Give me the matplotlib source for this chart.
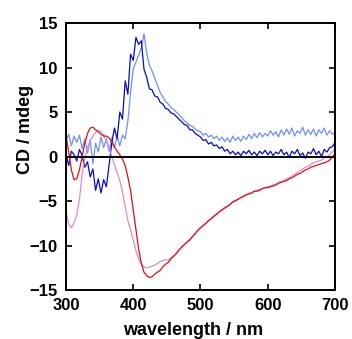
import numpy as np
import matplotlib
matplotlib.use("Agg")
from matplotlib import pyplot as plt

wavelength = np.arange(300, 701, 4)

red = [
    2.4, 0.5, -1.5, -2.6, -2.5, -1.5, 0.0, 1.5, 2.6, 3.2,
    3.3, 3.0, 2.8, 2.5, 2.3, 2.3, 2.1, 1.6, 1.1, 0.6,
    0.2, -0.3, -1.0, -2.3, -3.8, -6.0, -8.2, -10.4, -12.0, -13.0,
    -13.4, -13.6, -13.5, -13.2, -13.0, -12.8, -12.4, -12.1, -11.9, -11.5,
    -11.2, -10.9, -10.5, -10.2, -9.9, -9.6, -9.4, -9.0, -8.7, -8.3,
    -8.0, -7.8, -7.5, -7.2, -7.0, -6.7, -6.5, -6.2, -6.0, -5.8,
    -5.6, -5.4, -5.1, -5.0, -4.8, -4.6, -4.5, -4.3, -4.2, -4.1,
    -3.9, -3.9, -3.8, -3.6, -3.5, -3.5, -3.4, -3.3, -3.2, -3.0,
    -2.9, -2.8, -2.7, -2.5, -2.4, -2.2, -2.0, -1.9, -1.7, -1.5,
    -1.4, -1.2, -1.1, -1.0, -0.9, -0.8, -0.7, -0.6, -0.4, -0.1,
    0.4,
]

pink = [
    -6.2, -7.6, -8.0, -7.4, -6.6, -4.8, -2.0, -0.2, 1.0, 1.8,
    2.3, 2.7, 2.9, 2.8, 2.4, 1.7, 1.0, 0.0, -0.9, -1.8,
    -2.7, -4.0, -5.6, -7.2, -8.2, -9.4, -10.6, -11.5, -12.1, -12.4,
    -12.5, -12.4, -12.3, -12.2, -12.0, -11.8, -11.7, -11.6, -11.6, -11.4,
    -11.2, -10.9, -10.5, -10.1, -9.9, -9.6, -9.3, -9.0, -8.6, -8.3,
    -8.0, -7.7, -7.5, -7.2, -6.9, -6.7, -6.4, -6.2, -6.0, -5.7,
    -5.6, -5.3, -5.1, -4.9, -4.8, -4.6, -4.4, -4.3, -4.1, -4.1,
    -3.9, -3.8, -3.7, -3.6, -3.5, -3.4, -3.3, -3.2, -3.1, -2.9,
    -2.8, -2.7, -2.5, -2.4, -2.2, -2.0, -1.8, -1.6, -1.4, -1.2,
    -1.1, -0.9, -0.7, -0.6, -0.5, -0.4, -0.2, 0.0, 0.2, 0.5,
    0.9,
]

dark_blue = [
    0.3, -1.0, 0.6, 0.2, -0.5, 0.8, 0.1, -1.2, -0.6, -2.3,
    -1.4, -3.8, -2.5, -4.1, -2.6, -3.4, -1.0, 1.5, 3.2, 2.0,
    5.0, 4.2, 8.5, 7.0, 11.5, 10.8, 13.4, 12.6, 13.0, 9.8,
    8.9, 7.6, 7.5, 6.8, 6.7, 6.1, 5.9, 5.4, 5.3, 4.9,
    4.8, 4.5, 4.2, 3.9, 3.6, 3.5, 3.0, 3.0, 2.6, 2.4,
    2.2, 1.8, 1.9, 1.4, 1.6, 1.2, 1.3, 0.9, 1.1, 0.6,
    0.8, 0.3, 0.6, 0.2, 0.5, 0.1, 0.6, 0.3, 0.7, 0.2,
    0.5, 0.1, 0.6, 0.3, 0.7, 0.2, 0.6, 0.1, 0.5, 0.3,
    0.8, 0.2, 0.5, -0.1, 0.6, 0.3, 0.8, 0.1, 0.4, -0.2,
    0.5, 0.3, 0.9, 0.2, 0.6, 0.0, 0.8, 0.5, 1.0, 1.1,
    1.6,
]

light_blue = [
    1.8, 2.5, 1.2, 2.3, 1.6, 2.4, 0.9, 2.0, 0.4, 1.9,
    -0.8, 1.5, 0.5, 2.2, 1.0, 2.0, 0.6, 2.1, 1.0, 2.3,
    1.2, 2.4, 2.0, 4.0, 7.2, 9.9, 10.6, 11.4, 12.2, 13.8,
    11.6, 10.3, 9.6, 8.8, 8.0, 7.2, 6.7, 6.2, 5.9, 5.5,
    5.3, 5.0, 4.7, 4.4, 4.0, 3.8, 3.5, 3.4, 3.1, 2.9,
    2.8, 2.4, 2.6, 2.2, 2.4, 2.0, 2.3, 1.8, 2.2, 1.7,
    2.1, 1.6, 2.3, 1.8, 2.2, 1.7, 2.3, 1.9, 2.5, 2.0,
    2.6, 2.1, 2.7, 2.2, 2.6, 2.3, 2.9, 2.4, 2.8, 2.2,
    3.0, 2.4, 3.1, 2.5, 3.2, 2.3, 2.9, 2.6, 3.3, 2.4,
    3.0, 2.5, 3.1, 2.3, 3.0, 2.6, 3.2, 2.4, 2.9, 2.5,
    2.7,
]

plt.rcParams["font.family"] = ["Liberation Sans", "DejaVu Sans"]
plt.rcParams["font.weight"] = "bold"

fig = plt.figure(figsize=(3.52, 3.39), dpi=100)
ax = fig.add_axes([0.1875, 0.1445, 0.7642, 0.7875])

ax.plot(wavelength, light_blue, color="#6f8fff", linewidth=0.9)
ax.plot(wavelength, dark_blue, color="#0a0ac8", linewidth=0.9)
ax.plot(wavelength, pink, color="#d98ad9", linewidth=0.9)
ax.plot(wavelength, red, color="#e01010", linewidth=0.9)
ax.axhline(0, color="black", linewidth=1.4)

ax.set_xlim(300, 700)
ax.set_ylim(-15, 15)
ax.set_xticks([300, 400, 500, 600, 700])
ax.set_yticks([-15, -10, -5, 0, 5, 10, 15])
ax.tick_params(direction="in", length=4, width=1.2, top=True, right=True,
               labelsize=12, pad=6)
for spine in ax.spines.values():
    spine.set_linewidth(1.4)

ax.set_xlabel("wavelength / nm", fontsize=13, fontweight="bold")
ax.set_ylabel("CD / mdeg", fontsize=13, fontweight="bold")
ax.xaxis.set_label_coords(0.472, -0.118)
ax.yaxis.set_label_coords(-0.12, 0.6)

fig.savefig("out.png", dpi=100)
